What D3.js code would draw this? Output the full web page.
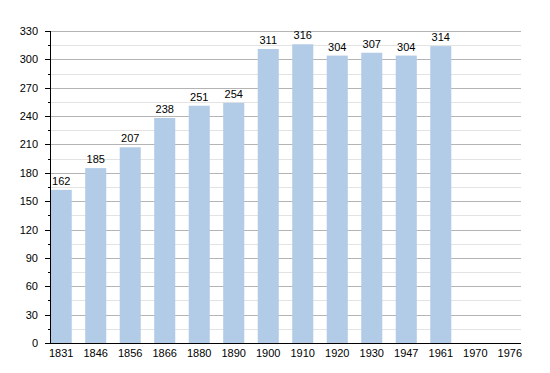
<!DOCTYPE html>
<html>
<head>
<meta charset="utf-8">
<script src="https://cdn.jsdelivr.net/npm/d3@7"></script>
<style>
  body { margin: 0; background: #fff; }
  text { font-family: "Liberation Sans", Arial, sans-serif; font-size: 11px; fill: #000; }
</style>
</head>
<body>
<div id="vis"></div>
<script>
/*************************** data ************************************/
var years = ["1831", "1846", "1856", "1866", "1880", "1890", "1900",
             "1910", "1920", "1930", "1947", "1961", "1970", "1976"];
var population = [162, 185, 207, 238, 251, 254, 311, 316, 304, 307, 304, 314, null, null];
var yMax = 330;

/*************************** chart ************************************/
var W = 550, H = 373;
var mLeft = 50, mRight = 521, mTop = 31, mBottom = 343;

var svg = d3.select("div#vis").append("svg")
    .attr("width", W)
    .attr("height", H);

var x = d3.scaleBand()
    .domain(years)
    .range([mLeft, mRight])
    .paddingInner(0.39)
    .paddingOuter(0.02);

var y = d3.scaleLinear()
    .domain([0, yMax])
    .range([mBottom, mTop]);

function py(d) { return Math.round(y(d)) + 0.5; }

// minor grid every 15, major every 30
var minor = d3.range(15, yMax, 30);
var major = d3.range(30, yMax + 1, 30);

svg.append("g").selectAll("line")
    .data(minor)
  .enter().append("line")
    .attr("x1", mLeft).attr("x2", mRight)
    .attr("y1", py).attr("y2", py)
    .attr("stroke", "#e3e3e3");

svg.append("g").selectAll("line")
    .data(major)
  .enter().append("line")
    .attr("x1", mLeft).attr("x2", mRight)
    .attr("y1", py).attr("y2", py)
    .attr("stroke", "#b4b4b4");

var rows = years.map(function(d, i) { return {year: d, value: population[i]}; })
    .filter(function(d) { return d.value != null; });

svg.append("g").selectAll("rect")
    .data(rows)
  .enter().append("rect")
    .attr("x", function(d) { return x(d.year); })
    .attr("y", function(d) { return y(d.value); })
    .attr("width", x.bandwidth())
    .attr("height", function(d) { return y(0) - y(d.value); })
    .attr("fill", "#b2cbe6");

svg.append("g").selectAll("text")
    .data(rows)
  .enter().append("text")
    .attr("x", function(d) { return x(d.year) + x.bandwidth() / 2; })
    .attr("y", function(d) { return y(d.value) - 5; })
    .attr("text-anchor", "middle")
    .text(function(d) { return d.value; });

// y axis
var ya = svg.append("g");
ya.append("line")
    .attr("x1", mLeft + 0.5).attr("x2", mLeft + 0.5)
    .attr("y1", mTop).attr("y2", mBottom)
    .attr("stroke", "#000");
ya.append("g").selectAll("line")
    .data(d3.range(0, yMax + 1, 30))
  .enter().append("line")
    .attr("x1", mLeft - 5).attr("x2", mLeft)
    .attr("y1", py).attr("y2", py)
    .attr("stroke", "#000");
ya.append("g").selectAll("line")
    .data(minor)
  .enter().append("line")
    .attr("x1", mLeft - 2).attr("x2", mLeft)
    .attr("y1", py).attr("y2", py)
    .attr("stroke", "#000");
ya.append("g").selectAll("text")
    .data(d3.range(0, yMax + 1, 30))
  .enter().append("text")
    .attr("x", mLeft - 12)
    .attr("y", function(d) { return y(d) + 4; })
    .attr("text-anchor", "end")
    .text(function(d) { return d; });

// x axis
svg.append("line")
    .attr("x1", mLeft).attr("x2", mRight)
    .attr("y1", mBottom + 0.5).attr("y2", mBottom + 0.5)
    .attr("stroke", "#000");
svg.append("g").selectAll("text")
    .data(years)
  .enter().append("text")
    .attr("x", function(d) { return x(d) + x.bandwidth() / 2; })
    .attr("y", mBottom + 14)
    .attr("text-anchor", "middle")
    .text(function(d) { return d; });
</script>
</body>
</html>
